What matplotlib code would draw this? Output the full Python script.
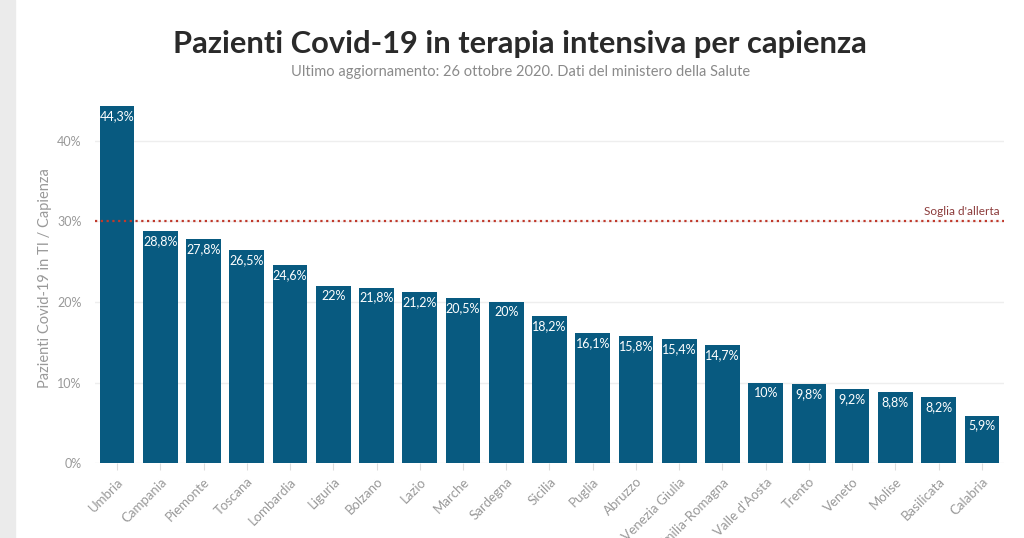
import matplotlib
matplotlib.use('Agg')
import matplotlib.pyplot as plt
from matplotlib.patches import Rectangle

regioni = ['Umbria', 'Campania', 'Piemonte', 'Toscana', 'Lombardia', 'Liguria',
           'Bolzano', 'Lazio', 'Marche', 'Sardegna', 'Sicilia', 'Puglia', 'Abruzzo',
           'Friuli-Venezia Giulia', 'Emilia-Romagna', "Valle d'Aosta", 'Trento',
           'Veneto', 'Molise', 'Basilicata', 'Calabria']
valori = [44.3, 28.8, 27.8, 26.5, 24.6, 22.0, 21.8, 21.2, 20.5, 20.0, 18.2, 16.1,
          15.8, 15.4, 14.7, 10.0, 9.8, 9.2, 8.8, 8.2, 5.9]
soglia = 30
yticks = [0, 10, 20, 30, 40]

plt.rcParams['font.family'] = ['Lato', 'DejaVu Sans']

fig = plt.figure(figsize=(10.24, 5.38), dpi=100)
fig.patches.append(Rectangle((0, 0), 15 / 1024, 1, transform=fig.transFigure,
                             color='#ebebeb', zorder=0))

ax = fig.add_axes([0.0932, 0.1394, 0.8868, 0.6883])
x = range(len(regioni))
ax.bar(x, valori, width=0.8, color='#085a80', zorder=2)

for i, v in enumerate(valori):
    lab = f'{v:g}'.replace('.', ',') + '%'
    ax.text(i, v - 0.5, lab, ha='center', va='top', color='white', fontsize=9, zorder=3)

ax.axhline(soglia, color='#c0392b', linestyle=(0, (1, 1.6)), linewidth=1.6, zorder=4)
ax.text(len(regioni) - 0.6, soglia + 0.6, "Soglia d'allerta", ha='right', va='bottom',
        color='#8b3a3a', fontsize=8.5)

ax.set_xlim(-0.5, len(regioni) - 0.5)
ax.set_ylim(0, 46)
ax.set_yticks(yticks)
ax.set_yticklabels([f'{t}%' for t in yticks])
ax.set_xticks(list(x))
ax.set_xticklabels(regioni, rotation=45, ha='right', rotation_mode='anchor')
ax.tick_params(axis='x', colors='#dddddd', labelcolor='#999999', labelsize=9.5, length=5, pad=4)
ax.tick_params(axis='y', length=0, labelcolor='#999999', labelsize=9, pad=10)
ax.grid(axis='y', color='#eeeeee', linewidth=1, zorder=0)
ax.set_axisbelow(True)
for s in ax.spines.values():
    s.set_visible(False)

ax.set_ylabel('Pazienti Covid-19 in TI / Capienza', color='#999999', fontsize=10.5)
ax.yaxis.set_label_coords(-0.048, 0.5)

fig.text(0.508, 0.918, 'Pazienti Covid-19 in terapia intensiva per capienza',
         ha='center', va='center', fontsize=22.2, fontweight='bold', color='#2a2a2a')
fig.text(0.508, 0.866, 'Ultimo aggiornamento: 26 ottobre 2020. Dati del ministero della Salute',
         ha='center', va='center', fontsize=10.5, color='#8a8a8a')

fig.savefig('out.png', dpi=100)
